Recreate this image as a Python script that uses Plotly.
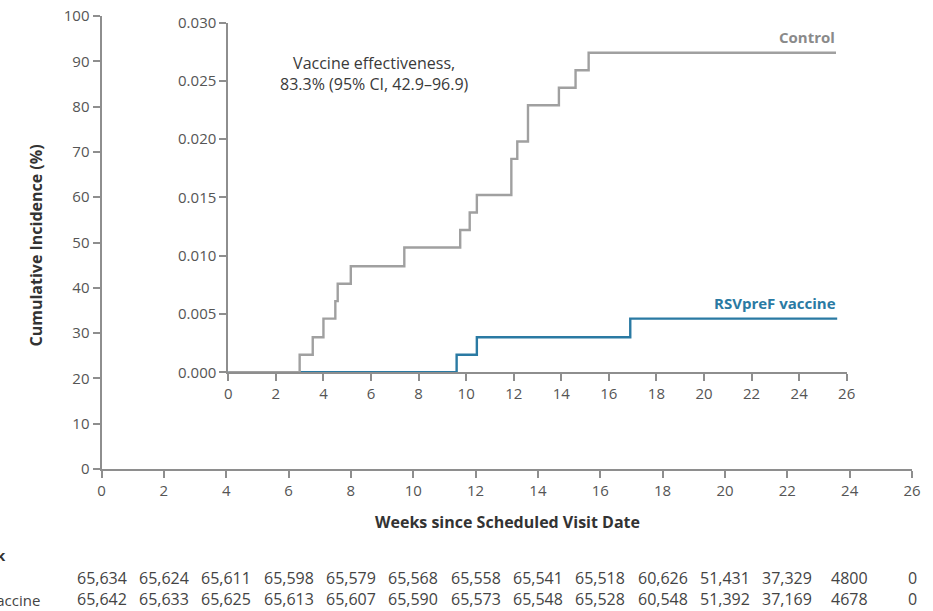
import plotly.graph_objects as go

# ---------------- data ----------------
control_weeks = [0, 3.0, 3.55, 4.0, 4.5, 4.6, 5.15, 7.4, 9.75, 10.15, 10.45, 11.9, 12.15, 12.6, 13.9, 14.6, 15.15, 25.55]
control_incidence = [0, 0.0015, 0.0030, 0.0046, 0.0061, 0.0076, 0.0091, 0.0107, 0.0122, 0.0137, 0.0152,
                     0.0183, 0.0198, 0.0229, 0.0244, 0.0259, 0.0274, 0.0274]
vaccine_weeks = [0, 9.6, 10.45, 16.9, 25.6]
vaccine_incidence = [0, 0.0015, 0.0030, 0.0046, 0.0046]

risk_weeks = [0, 2, 4, 6, 8, 10, 12, 14, 16, 18, 20, 22, 24, 26]
risk_control = ["65,634", "65,624", "65,611", "65,598", "65,579", "65,568", "65,558", "65,541",
                "65,518", "60,626", "51,431", "37,329", "4800", "0"]
risk_vaccine = ["65,642", "65,633", "65,625", "65,613", "65,607", "65,590", "65,573", "65,548",
                "65,528", "60,548", "51,392", "37,169", "4678", "0"]

outer_y_ticks = list(range(0, 101, 10))
outer_x_ticks = list(range(0, 27, 2))
inner_y_ticks = [0.0, 0.005, 0.010, 0.015, 0.020, 0.025, 0.030]
inner_x_ticks = list(range(0, 27, 2))

# ---------------- styling ----------------
W, H = 933, 611
FONT = "Open Sans"
AXIS_GRAY = "#8e8e8e"
TICK_TEXT = "#555555"
CONTROL_GRAY = "#a0a0a0"
VACCINE_BLUE = "#2a7aa3"


def px(x):
    return x / W


def py(y):
    return 1 - y / H


fig = go.Figure()

# placeholder on outer axes so they render
fig.add_trace(go.Scatter(x=[0], y=[0], mode="markers", marker=dict(opacity=0),
                         xaxis="x", yaxis="y", showlegend=False, hoverinfo="skip"))

fig.add_trace(go.Scatter(x=vaccine_weeks, y=vaccine_incidence, mode="lines", line_shape="hv",
                         line=dict(color=VACCINE_BLUE, width=2.4), xaxis="x2", yaxis="y2",
                         name="RSVpreF vaccine", showlegend=False, cliponaxis=False))
fig.add_trace(go.Scatter(x=control_weeks, y=control_incidence, mode="lines", line_shape="hv",
                         line=dict(color=CONTROL_GRAY, width=2.4), xaxis="x2", yaxis="y2",
                         name="Control", showlegend=False, cliponaxis=False))

axis_common = dict(showgrid=False, zeroline=False, showline=True, linecolor=AXIS_GRAY, linewidth=2,
                   ticks="outside", tickcolor=AXIS_GRAY, tickwidth=1.5, ticklen=7,
                   ticklabeloverflow="allow",
                   tickfont=dict(family=FONT, size=15, color=TICK_TEXT), automargin=False)

fig.update_layout(
    width=W, height=H,
    margin=dict(l=0, r=0, t=0, b=0),
    paper_bgcolor="white", plot_bgcolor="rgba(0,0,0,0)",
    xaxis=dict(domain=[px(101.5), px(912)], range=[0, 26], tickvals=outer_x_ticks,
               anchor="y", **axis_common),
    yaxis=dict(domain=[py(469), py(16)], range=[0, 100], tickvals=outer_y_ticks,
               anchor="x", **axis_common),
    xaxis2=dict(domain=[px(228.3), px(846.7)], range=[0, 26], tickvals=inner_x_ticks,
                anchor="y2", **axis_common),
    yaxis2=dict(domain=[py(372.3), py(22.5)], range=[0, 0.030], tickvals=inner_y_ticks,
                tickformat=".3f", anchor="x2", **axis_common),
    showlegend=False,
)

ann = []
ann.append(dict(text="Vaccine effectiveness,<br>83.3% (95% CI, 42.9–96.9)", x=px(374), y=py(73),
                xref="paper", yref="paper", xanchor="center", yanchor="middle", showarrow=False,
                font=dict(family=FONT, size=16, color="#3a3a3a")))
ann.append(dict(text="<b>Control</b>", x=px(837), y=py(37.5), xref="paper", yref="paper",
                xanchor="right", yanchor="middle", showarrow=False,
                font=dict(family=FONT, size=15, color="#8a8a8a")))
ann.append(dict(text="<b>RSVpreF vaccine</b>", x=px(838), y=py(302.7), xref="paper", yref="paper",
                xanchor="right", yanchor="middle", showarrow=False,
                font=dict(family=FONT, size=15, color=VACCINE_BLUE)))
ann.append(dict(text="<b>Weeks since Scheduled Visit Date</b>", x=px(507.5), y=py(521.7),
                xref="paper", yref="paper", xanchor="center", yanchor="middle", showarrow=False,
                font=dict(family=FONT, size=16, color="#333333")))
ann.append(dict(text="<b>Cumulative Incidence (%)</b>", x=px(35.5), y=py(246), textangle=-90,
                xref="paper", yref="paper", xanchor="center", yanchor="middle", showarrow=False,
                font=dict(family=FONT, size=16, color="#333333")))
ann.append(dict(text="<b>No. at Risk</b>", x=px(8), y=py(555), xref="paper", yref="paper",
                xanchor="right", yanchor="middle", showarrow=False,
                font=dict(family=FONT, size=15, color="#333333")))
ann.append(dict(text="RSVpreF vaccine", x=px(42), y=py(600), xref="paper", yref="paper",
                xanchor="right", yanchor="middle", showarrow=False,
                font=dict(family=FONT, size=15, color="#444444")))

for wk, c, v in zip(risk_weeks, risk_control, risk_vaccine):
    ann.append(dict(text=c, x=wk, y=py(578.3), xref="x", yref="paper", xanchor="center",
                    yanchor="middle", showarrow=False, font=dict(family=FONT, size=16, color="#444444")))
    ann.append(dict(text=v, x=wk, y=py(598.5), xref="x", yref="paper", xanchor="center",
                    yanchor="middle", showarrow=False, font=dict(family=FONT, size=16, color="#444444")))

fig.update_layout(annotations=ann)

# remove the page's default body margin so the 933x611 figure fills the window exactly
fig.write_html("out.html",
               config={"displayModeBar": False},
               post_script="document.body.style.margin='0';document.body.style.overflow='hidden';")
